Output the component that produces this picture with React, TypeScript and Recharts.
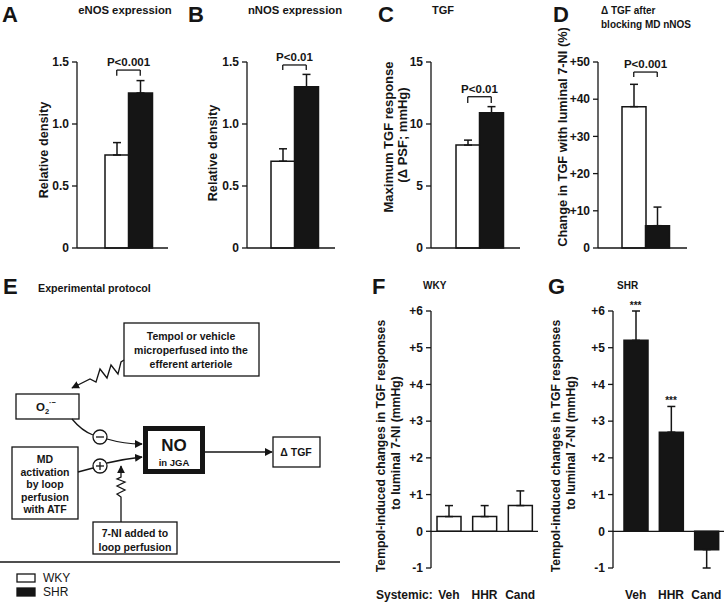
import { BarChart, Bar, XAxis, YAxis, ErrorBar, Cell, ReferenceLine, ReferenceDot } from 'recharts';

const FONT = "'Liberation Sans', Arial, sans-serif";
const INK = '#151515';

// top row: WKY (white) vs SHR (black)
const groups = ['WKY', 'SHR'];
const groupFill = ['#ffffff', INK];

const enosMean = [0.75, 1.25];
const enosErr = [0.1, 0.1];
const nnosMean = [0.7, 1.3];
const nnosErr = [0.1, 0.1];
const tgfMean = [8.3, 10.9];
const tgfErr = [0.4, 0.5];
const nniMean = [38, 6];
const nniErr = [6, 5];

const densityTicks = [0, 0.5, 1, 1.5];
const tgfTicks = [0, 5, 10, 15];
const nniTicks = [0, 10, 20, 30, 40, 50];

// bottom row: systemic treatment
const treatments = ['Veh', 'HHR', 'Cand'];
const wkyMean = [0.4, 0.4, 0.7];
const wkyErr = [0.3, 0.3, 0.4];
const shrMean = [5.2, 2.7, -0.5];
const shrErr = [0.8, 0.7, 0.5];
const shrSig = ['***', '***', ''];
const tempolTicks = [-1, 0, 1, 2, 3, 4, 5, 6];

const pairData = (mean: number[], err: number[]) =>
  groups.map((g, i) => ({ group: g, mean: mean[i], err: [0, err[i]] }));

const treatData = (mean: number[], err: number[]) =>
  treatments.map((t, i) => ({
    treatment: t,
    mean: mean[i],
    err: mean[i] < 0 ? [err[i], 0] : [0, err[i]],
  }));

const tickStyle = { fill: INK, fontSize: 12, fontWeight: 700, fontFamily: FONT };

const fmtDensity = (v: number) => (v === 0 ? '0' : v.toFixed(1));
const fmtPlain = (v: number) => `${v}`;
const fmtPlus = (v: number) => (v > 0 ? `+${v}` : `${v}`);

interface PairProps {
  left: number;
  width: number;
  axisW: number;
  right: number;
  pad: { left: number; right: number };
  data: { group: string; mean: number; err: number[] }[];
  domain: [number, number];
  ticks: number[];
  fmt: (v: number) => string;
  bracket: [number, number];
  pText: string;
}

function PairPanel({ left, width, axisW, right, pad, data, domain, ticks, fmt, bracket, pText }: PairProps) {
  const [hi, lo] = bracket;
  return (
    <div style={{ position: 'absolute', left, top: 0 }}>
      <BarChart width={width} height={260} data={data} margin={{ top: 62, right, left: 0, bottom: 11 }} barCategoryGap={0}>
        <XAxis dataKey="group" tick={false} tickLine={false} height={1} padding={pad} stroke={INK} strokeWidth={1.3} />
        <YAxis
          domain={domain}
          ticks={ticks}
          interval={0}
          tickFormatter={fmt}
          width={axisW}
          tickSize={5}
          tickMargin={3}
          tick={tickStyle}
          stroke={INK}
          strokeWidth={1.3}
        />
        <Bar dataKey="mean" stroke={INK} strokeWidth={1.5} isAnimationActive={false}>
          {data.map((d, i) => (
            <Cell key={d.group} fill={groupFill[i]} />
          ))}
          <ErrorBar dataKey="err" width={4} stroke={INK} strokeWidth={1.5} />
        </Bar>
        <ReferenceLine
          segment={[{ x: 'WKY', y: hi }, { x: 'SHR', y: hi }]}
          stroke={INK}
          strokeWidth={1.3}
          label={{ value: pText, position: 'top', offset: 4, fill: INK, fontSize: 11.5, fontWeight: 700, fontFamily: FONT }}
        />
        <ReferenceLine segment={[{ x: 'WKY', y: hi }, { x: 'WKY', y: lo }]} stroke={INK} strokeWidth={1.3} />
        <ReferenceLine segment={[{ x: 'SHR', y: hi }, { x: 'SHR', y: lo }]} stroke={INK} strokeWidth={1.3} />
      </BarChart>
    </div>
  );
}

interface TreatProps {
  left: number;
  width: number;
  axisW: number;
  right: number;
  pad: { left: number; right: number };
  data: { treatment: string; mean: number; err: number[] }[];
  fill: string;
  sig?: string[];
}

function TreatPanel({ left, width, axisW, right, pad, data, fill, sig }: TreatProps) {
  return (
    <div style={{ position: 'absolute', left, top: 270 }}>
      <BarChart width={width} height={334} data={data} margin={{ top: 41, right, left: 0, bottom: 0 }}>
        <XAxis
          dataKey="treatment"
          axisLine={false}
          tickLine={false}
          tickSize={0}
          tickMargin={22}
          height={36}
          padding={pad}
          interval={0}
          tick={tickStyle}
        />
        <YAxis
          domain={[-1, 6]}
          ticks={tempolTicks}
          interval={0}
          tickFormatter={fmtPlus}
          width={axisW}
          tickSize={5}
          tickMargin={3}
          tick={tickStyle}
          stroke={INK}
          strokeWidth={1.3}
        />
        <ReferenceLine y={0} stroke={INK} strokeWidth={1.3} />
        <Bar dataKey="mean" barSize={24} fill={fill} stroke={INK} strokeWidth={1.5} isAnimationActive={false}>
          <ErrorBar dataKey="err" width={4} stroke={INK} strokeWidth={1.5} />
        </Bar>
        {sig &&
          data.map((d, i) =>
            sig[i] ? (
              <ReferenceDot
                key={d.treatment}
                x={d.treatment}
                y={d.mean + d.err[1]}
                r={0}
                ifOverflow="visible"
                label={{ value: sig[i], position: 'top', offset: 2, fill: INK, fontSize: 10, fontWeight: 700, fontFamily: FONT }}
              />
            ) : null
          )}
      </BarChart>
    </div>
  );
}

function Overlay() {
  const t = { fontFamily: FONT, fontWeight: 700, fill: INK };
  const letter = { fontFamily: FONT, fontWeight: 700, fill: INK, fontSize: 22 };
  const box = { textAnchor: 'middle' as const, fontSize: 10.5, ...t };
  return (
    <svg width={726} height={604} style={{ position: 'absolute', left: 0, top: 0, pointerEvents: 'none' }}>
      <defs>
        <marker id="arr" viewBox="0 0 10 10" refX="9" refY="5" markerWidth="6" markerHeight="6" orient="auto">
          <path d="M0,0 L10,5 L0,10 z" fill={INK} />
        </marker>
      </defs>

      {/* panel letters and titles */}
      <text x={2} y={22} {...letter}>A</text>
      <text x={125} y={14} textAnchor="middle" fontSize={11.3} {...t}>eNOS expression</text>
      <text x={188} y={22} {...letter}>B</text>
      <text x={295} y={14} textAnchor="middle" fontSize={11.3} {...t}>nNOS expression</text>
      <text x={378} y={22} {...letter}>C</text>
      <text x={432} y={14} fontSize={11} {...t}>TGF</text>
      <text x={553} y={22} {...letter}>D</text>
      <text x={601} y={14} fontSize={10} {...t}>Δ TGF after</text>
      <text x={601} y={28} fontSize={10} {...t}>blocking MD nNOS</text>
      <text x={3} y={294} {...letter}>E</text>
      <text x={38} y={292} fontSize={10.7} {...t}>Experimental protocol</text>
      <text x={372} y={294} {...letter}>F</text>
      <text x={423} y={289} fontSize={10} {...t}>WKY</text>
      <text x={548} y={294} {...letter}>G</text>
      <text x={617} y={289} fontSize={10} {...t}>SHR</text>

      {/* y axis titles */}
      <text transform="translate(47.5,150) rotate(-90)" textAnchor="middle" fontSize={12.7} {...t}>Relative density</text>
      <text transform="translate(216.5,153) rotate(-90)" textAnchor="middle" fontSize={12.7} {...t}>Relative density</text>
      <text transform="translate(392.5,137) rotate(-90)" textAnchor="middle" fontSize={13} {...t}>Maximum TGF response</text>
      <text transform="translate(406.5,135) rotate(-90)" textAnchor="middle" fontSize={13} {...t}>(Δ PSF; mmHg)</text>
      <text transform="translate(566.5,137) rotate(-90)" textAnchor="middle" fontSize={12.8} {...t}>Change in TGF with luminal 7-NI (%)</text>
      <text transform="translate(384.5,446) rotate(-90)" textAnchor="middle" fontSize={12.2} {...t}>Tempol-induced changes in TGF responses</text>
      <text transform="translate(399.5,443) rotate(-90)" textAnchor="middle" fontSize={12.2} {...t}>to luminal 7-NI (mmHg)</text>
      <text transform="translate(559.5,446) rotate(-90)" textAnchor="middle" fontSize={12.2} {...t}>Tempol-induced changes in TGF responses</text>
      <text transform="translate(574.5,443) rotate(-90)" textAnchor="middle" fontSize={12.2} {...t}>to luminal 7-NI (mmHg)</text>
      <text x={376} y={599} fontSize={12} {...t}>Systemic:</text>

      {/* protocol diagram */}
      <g stroke={INK} strokeWidth={1.3} fill="none">
        <rect x={124} y={323} width={135} height={53} fill="#fff" />
        <path d="M124,360 L121,362 L118,374 L111,365 L107,378 L100,369 L96,382 L90,379 L72,388" markerEnd="url(#arr)" />
        <rect x={16} y={394} width={63} height={25} fill="#fff" />
        <path d="M72,419 Q82,431 93,435" />
        <circle cx={100} cy={437} r={7} fill="#fff" />
        <line x1={96} y1={437} x2={104} y2={437} />
        <path d="M107,439 Q124,444 142,444" markerEnd="url(#arr)" />
        <rect x={12} y={447} width={66} height={72} fill="#fff" />
        <line x1={78} y1={472} x2={93} y2={468} />
        <circle cx={100} cy={466} r={7} fill="#fff" />
        <line x1={96} y1={466} x2={104} y2={466} />
        <line x1={100} y1={462} x2={100} y2={470} />
        <path d="M107,463 Q124,459 142,457" markerEnd="url(#arr)" />
        <path d="M121,522 L121,497 L117,494 L125,490 L117,486 L125,482 L117,479 L121,477 L121,466" markerEnd="url(#arr)" />
        <rect x={145.5} y={428.5} width={57} height={43} strokeWidth={5} fill="#fff" />
        <line x1={205} y1={452} x2={272} y2={452} markerEnd="url(#arr)" />
        <rect x={273} y={437} width={47} height={30} fill="#fff" />
        <rect x={93} y={522} width={84} height={32} fill="#fff" />
        <line x1={0} y1={562} x2={340} y2={562} />
        <rect x={17} y={574} width={18} height={8} fill="#fff" />
        <rect x={17} y={588} width={18} height={8} fill={INK} />
      </g>
      <text x={191} y={340} {...box}>Tempol or vehicle</text>
      <text x={191} y={354} {...box}>microperfused into the</text>
      <text x={191} y={368} {...box}>efferent arteriole</text>
      <text x={46} y={411} {...box} fontSize={11.5}>
        O<tspan dy={3} fontSize={7.5}>2</tspan>
        <tspan dy={-9} fontSize={7.5}>·−</tspan>
      </text>
      <text x={45} y={463} {...box}>MD</text>
      <text x={45} y={476} {...box}>activation</text>
      <text x={45} y={488} {...box}>by loop</text>
      <text x={45} y={501} {...box}>perfusion</text>
      <text x={45} y={513} {...box}>with ATF</text>
      <text x={174} y={451} {...box} fontSize={17}>NO</text>
      <text x={174} y={465.5} {...box} fontSize={9.5}>in JGA</text>
      <text x={296} y={456} {...box}>Δ TGF</text>
      <text x={135} y={537} {...box}>7-NI added to</text>
      <text x={135} y={551} {...box}>loop perfusion</text>
      <text x={43} y={582} fontSize={12} fontFamily={FONT} fill={INK}>WKY</text>
      <text x={43} y={596} fontSize={12} fontFamily={FONT} fill={INK}>SHR</text>
    </svg>
  );
}

export default function App() {
  return (
    <div style={{ position: 'absolute', left: 0, top: 0, width: 726, height: 604, background: '#fff', fontFamily: FONT }}>
      <PairPanel
        left={0} width={180} axisW={77} right={12} pad={{ left: 28, right: 16 }}
        data={pairData(enosMean, enosErr)} domain={[0, 1.5]} ticks={densityTicks} fmt={fmtDensity}
        bracket={[1.435, 1.39]} pText="P<0.001"
      />
      <PairPanel
        left={180} width={167} axisW={67} right={12} pad={{ left: 24, right: 17 }}
        data={pairData(nnosMean, nnosErr)} domain={[0, 1.5]} ticks={densityTicks} fmt={fmtDensity}
        bracket={[1.476, 1.435]} pText="P<0.01"
      />
      <PairPanel
        left={355} width={175} axisW={76} right={10} pad={{ left: 25, right: 17 }}
        data={pairData(tgfMean, tgfErr)} domain={[0, 15]} ticks={tgfTicks} fmt={fmtPlain}
        bracket={[12.2, 11.7]} pText="P<0.01"
      />
      <PairPanel
        left={530} width={167} axisW={68} right={10} pad={{ left: 24, right: 18 }}
        data={pairData(nniMean, nniErr)} domain={[0, 50]} ticks={nniTicks} fmt={fmtPlus}
        bracket={[47.3, 46]} pText="P<0.001"
      />
      <TreatPanel
        left={370} width={172} axisW={61} right={4} pad={{ left: 0, right: 0 }}
        data={treatData(wkyMean, wkyErr)} fill="#ffffff"
      />
      <TreatPanel
        left={545} width={181} axisW={68} right={2} pad={{ left: 5, right: 0 }}
        data={treatData(shrMean, shrErr)} fill={INK} sig={shrSig}
      />
      <Overlay />
    </div>
  );
}
